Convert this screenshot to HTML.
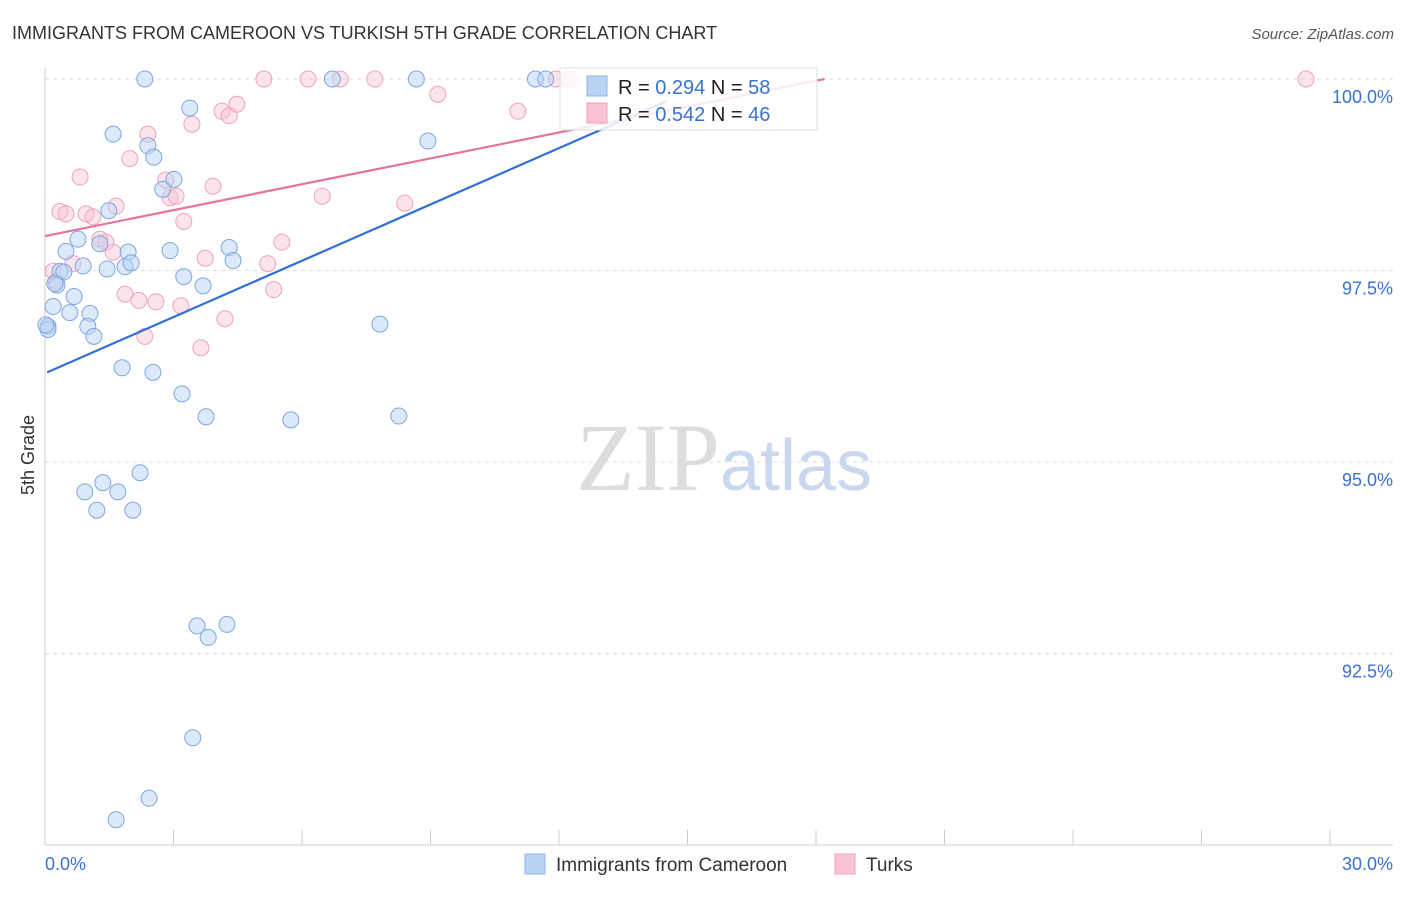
<!DOCTYPE html>
<html><head><meta charset="utf-8"><style>
body{margin:0;background:#fff;font-family:"Liberation Sans",sans-serif}
</style></head><body>
<svg width="1406" height="892" xmlns="http://www.w3.org/2000/svg" font-family="Liberation Sans, sans-serif">
<text x="12" y="39" font-size="18" fill="#333">IMMIGRANTS FROM CAMEROON VS TURKISH 5TH GRADE CORRELATION CHART</text>
<text x="1394" y="39" font-size="15" fill="#555" font-style="italic" text-anchor="end">Source: ZipAtlas.com</text>
<g id="grid"></g>
<g id="axes"></g>
<text x="720" y="490" font-size="96" fill="#ddd" text-anchor="end" font-family="Liberation Serif, serif">ZIP</text>
<text x="720" y="490" font-size="72" fill="#c9d8ee">atlas</text>
<text x="34" y="455" font-size="18" fill="#333" transform="rotate(-90 34 455)" text-anchor="middle">5th Grade</text>
<g id="points"></g>
<g id="lines"></g>
<g>
<rect x="560" y="68" width="257" height="62" fill="#fff" fill-opacity="0.85" stroke="#ddd"/>
<rect x="587" y="76" width="20" height="20" fill="#b9d3f5" stroke="#8fb4e8"/>
<rect x="587" y="103" width="20" height="20" fill="#f9c3d3" stroke="#f0a0b8"/>
<text x="618" y="94" font-size="20" fill="#222">R = <tspan fill="#3a72d0">0.294</tspan>   N = <tspan fill="#3a72d0">58</tspan></text>
<text x="618" y="121" font-size="20" fill="#222">R = <tspan fill="#3a72d0">0.542</tspan>   N = <tspan fill="#3a72d0">46</tspan></text>
</g>
<g>
<rect x="525" y="854" width="20" height="20" fill="#b9d3f5" stroke="#8fb4e8"/>
<text x="556" y="871" font-size="19" fill="#333">Immigrants from Cameroon</text>
<rect x="835" y="854" width="20" height="20" fill="#f9c3d3" stroke="#f0a0b8"/>
<text x="866" y="871" font-size="19" fill="#333">Turks</text>
</g>
</svg>
<script>
const yTicks=[100,97.5,95,92.5];
const yTickLabels=["100.0%","97.5%","95.0%","92.5%"];
const xEdgeLabels=["0.0%","30.0%"];
const blueX=[2.33,6.71,8.67,11.45,11.69,3.38,1.59,8.94,2.40,2.54,3.01,2.75,1.49,0.77,0.49,1.28,1.94,2.92,4.30,4.39,0.89,1.45,1.87,2.01,0.35,0.44,3.24,3.69,0.28,0.68,0.19,0.58,1.05,1.00,1.14,0.07,0.07,7.82,1.80,2.52,3.20,3.76,5.74,8.26,2.22,1.35,0.93,1.70,1.21,2.05,3.55,4.25,3.81,3.45,2.43,1.66,0.02,0.23];
const blueY=[100,100,100,100,100,99.62,99.28,99.19,99.13,98.98,98.69,98.56,98.28,97.91,97.75,97.85,97.74,97.76,97.80,97.63,97.56,97.52,97.55,97.60,97.49,97.48,97.42,97.30,97.31,97.16,97.03,96.95,96.94,96.77,96.64,96.77,96.73,96.80,96.23,96.17,95.89,95.59,95.55,95.60,94.86,94.73,94.61,94.61,94.37,94.37,92.86,92.88,92.71,91.40,90.61,90.33,96.79,97.33];
const pinkX=[5.11,6.14,6.89,7.70,11.93,12.21,12.30,29.44,9.17,4.48,4.13,4.30,11.04,3.43,2.40,1.98,0.82,2.82,3.92,2.92,3.06,6.47,8.40,1.66,0.35,0.49,0.96,1.12,3.24,1.28,1.42,5.53,1.59,3.74,5.20,0.19,0.65,0.26,5.34,1.87,2.19,2.59,3.17,4.20,2.33,3.64];
const pinkY=[100,100,100,100,100,100,100,100,99.80,99.67,99.58,99.52,99.58,99.41,99.28,98.96,98.72,98.68,98.60,98.45,98.47,98.47,98.38,98.34,98.27,98.24,98.24,98.20,98.14,97.91,97.87,97.87,97.74,97.66,97.59,97.49,97.59,97.36,97.25,97.19,97.11,97.09,97.04,96.87,96.64,96.49];
const trendBlue=[96.17,99.71]; // y at x=0 and x=14.5
const trendPink=[97.95,100.0]; // y at x=0 and x=18.2
const NS="http://www.w3.org/2000/svg";
const X=v=>45+v/30*1285, Y=v=>79+(100-v)/2.5*191.5;
function mk(t,a,p){const e=document.createElementNS(NS,t);for(const k in a)e.setAttribute(k,a[k]);p.appendChild(e);return e;}
const grid=document.getElementById('grid'),axes=document.getElementById('axes');
yTicks.forEach((t,i)=>{
 const l=mk('line',{x1:45,x2:1393,y1:Y(t),y2:Y(t),stroke:'#ddd','stroke-dasharray':'4 4'},grid);
 
 
 const tx=mk('text',{x:1393,y:Y(t)+24,'font-size':18,fill:'#3a72d0','text-anchor':'end'},axes);
 tx.textContent=yTickLabels[i];
 
 
});
const ax=mk('line',{x1:45,x2:1393,y1:845,y2:845,stroke:'#ccc'},axes);


const ay=mk('line',{x1:45,x2:45,y1:68,y2:845,stroke:'#ccc'},axes);


for(let i=0;i<=10;i++){const t=mk('line',{x1:X(i*3),x2:X(i*3),y1:830,y2:845,stroke:'#ccc'},axes);
 
 }
const xl0=mk('text',{x:45,y:870,'font-size':18,fill:'#3a72d0'},axes);xl0.textContent=xEdgeLabels[0];


const xl1=mk('text',{x:1393,y:870,'font-size':18,fill:'#3a72d0','text-anchor':'end'},axes);xl1.textContent=xEdgeLabels[1];


const pts=document.getElementById('points');
pinkX.forEach((v,i)=>{const c=mk('circle',{cx:X(v),cy:Y(pinkY[i]),r:8,fill:'#f9c3d3','fill-opacity':0.45,stroke:'#eea3ba','stroke-width':1},pts);
 
 });
blueX.forEach((v,i)=>{const c=mk('circle',{cx:X(v),cy:Y(blueY[i]),r:8,fill:'#b9d3f5','fill-opacity':0.5,stroke:'#7fa6de','stroke-width':1},pts);
 
 });
const lines=document.getElementById('lines');
const lb=mk('line',{x1:X(0.05),y1:Y(trendBlue[0]),x2:X(14.5),y2:Y(trendBlue[1]),stroke:'#2f6fd6','stroke-width':2.2},lines);


const lp=mk('line',{x1:X(0),y1:Y(trendPink[0]),x2:X(18.2),y2:Y(trendPink[1]),stroke:'#e8739a','stroke-width':2.2},lines);


</script>
</body></html>
